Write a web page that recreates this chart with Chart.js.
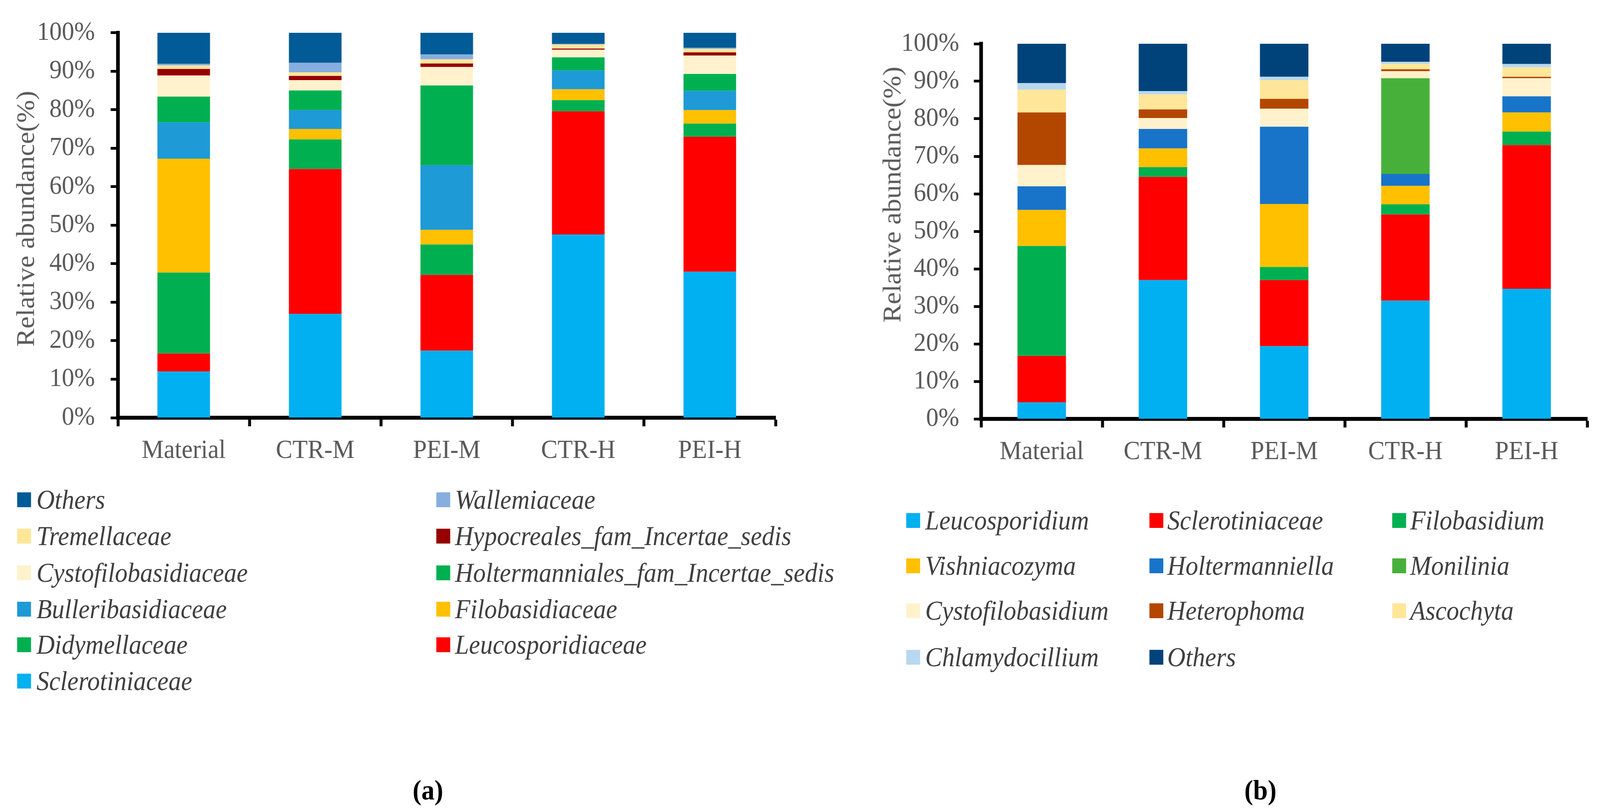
<!DOCTYPE html>
<html>
<head>
<meta charset="utf-8">
<script src="https://cdn.jsdelivr.net/npm/chart.js@4.4.1/dist/chart.umd.min.js"></script>
<style>
  html, body { margin: 0; background: #fff; overflow: hidden; }
  #page { position: absolute; left: 0; top: 0; width: 4382px; height: 2078px; transform-origin: 0 0;
          font-family: "Liberation Serif", "Times New Roman", serif; }
  canvas { position: absolute; top: 0; }
  .ytitle { position: absolute; font-size: 70px; color: #595959; white-space: nowrap;
            transform: translate(-50%, -50%) rotate(-90deg); }
  .sw { position: absolute; width: 38px; height: 38px; }
  .lt { position: absolute; font-style: italic; font-size: 69px; line-height: 1; color: #404040; white-space: nowrap; }
  .cap { position: absolute; font-weight: bold; font-size: 72px; color: #000; transform: translate(-50%, -50%); }
</style>
</head>
<body>
<div id="page">
  <canvas id="chartA" width="2250" height="1250" style="left:0"></canvas>
  <canvas id="chartB" width="2082" height="1250" style="left:2300px"></canvas>
  <div class="ytitle" style="left:70px; top:560px">Relative abundance(%)</div>
  <div class="ytitle" style="left:2443px; top:498px">Relative abundance(%)</div>
  <div class="cap" style="left:1172px; top:2022px">(a)</div>
  <div class="cap" style="left:3452px; top:2022px">(b)</div>
</div>
<script>
// shared axes
const groups = ['Material', 'CTR-M', 'PEI-M', 'CTR-H', 'PEI-H'];
const yTickValues = [0, 10, 20, 30, 40, 50, 60, 70, 80, 90, 100];

// (a) family level, % per group, bottom to top of the stack
const sclerotiniaceaeA = [12.0, 27.0, 17.4, 47.6, 37.9];
const leucosporidiaceaeA = [4.7, 37.6, 19.7, 32.0, 35.1];
const didymellaceaeA = [21.0, 7.7, 7.9, 2.9, 3.4];
const filobasidiaceaeA = [29.6, 2.7, 3.8, 2.8, 3.5];
const bulleribasidiaceaeA = [9.4, 4.9, 16.8, 4.9, 5.0];
const holtermannialesA = [6.7, 5.1, 20.7, 3.4, 4.4];
const cystofilobasidiaceaeA = [5.5, 2.7, 4.8, 2.0, 4.8];
const hypocrealesA = [1.7, 1.1, 0.9, 0.3, 0.8];
const tremellaceaeA = [0.9, 0.9, 1.1, 1.0, 0.9];
const wallemiaceaeA = [0.4, 2.5, 1.3, 0.2, 0.3];
const othersA = [8.1, 7.8, 5.6, 2.9, 3.9];

// (b) genus level, % per group, bottom to top of the stack
const leucosporidiumB = [4.4, 37.0, 19.4, 31.5, 34.7];
const sclerotiniaceaeB = [12.4, 27.5, 17.6, 23.0, 38.3];
const filobasidiumB = [29.3, 2.6, 3.5, 2.7, 3.6];
const vishniacozymaB = [9.6, 5.0, 16.8, 4.9, 5.1];
const holtermanniellaB = [6.3, 5.2, 20.6, 3.2, 4.3];
const moniliniaB = [0, 0, 0, 25.5, 0];
const cystofilobasidiumB = [5.7, 2.9, 4.8, 1.9, 4.8];
const heterophomaB = [14.0, 2.3, 2.6, 0.5, 0.4];
const ascochytaB = [6.1, 4.0, 5.0, 1.5, 2.5];
const chlamydocilliumB = [1.7, 0.9, 0.9, 0.5, 0.9];
const othersB = [10.5, 12.6, 8.8, 4.8, 5.4];

const seriesA = [
  ['Sclerotiniaceae', sclerotiniaceaeA, '#00B0F0'],
  ['Leucosporidiaceae', leucosporidiaceaeA, '#FF0000'],
  ['Didymellaceae', didymellaceaeA, '#00B050'],
  ['Filobasidiaceae', filobasidiaceaeA, '#FFC000'],
  ['Bulleribasidiaceae', bulleribasidiaceaeA, '#1E9AD6'],
  ['Holtermanniales_fam_Incertae_sedis', holtermannialesA, '#00B050'],
  ['Cystofilobasidiaceae', cystofilobasidiaceaeA, '#FFF2CC'],
  ['Hypocreales_fam_Incertae_sedis', hypocrealesA, '#960000'],
  ['Tremellaceae', tremellaceaeA, '#FFE699'],
  ['Wallemiaceae', wallemiaceaeA, '#86AEDF'],
  ['Others', othersA, '#005B96']
];
const seriesB = [
  ['Leucosporidium', leucosporidiumB, '#00B0F0'],
  ['Sclerotiniaceae', sclerotiniaceaeB, '#FF0000'],
  ['Filobasidium', filobasidiumB, '#00B050'],
  ['Vishniacozyma', vishniacozymaB, '#FFC000'],
  ['Holtermanniella', holtermanniellaB, '#1874C9'],
  ['Monilinia', moniliniaB, '#47B03A'],
  ['Cystofilobasidium', cystofilobasidiumB, '#FFF2CC'],
  ['Heterophoma', heterophomaB, '#B34700'],
  ['Ascochyta', ascochytaB, '#FFE699'],
  ['Chlamydocillium', chlamydocilliumB, '#B7D8F0'],
  ['Others', othersB, '#00437A']
];

// the page is laid out at 4382 px wide; squeeze it into whatever the viewport really is
const page = document.getElementById('page');
page.style.transform = 'scale(' + Math.min(1, window.innerWidth / 4382) + ',' + Math.min(1, window.innerHeight / 2078) + ')';

const tickFont = { family: "'Liberation Serif', 'Times New Roman', serif", size: 68 };

function makeChart(id, series, box) {
  return new Chart(document.getElementById(id), {
    type: 'bar',
    data: {
      labels: groups,
      datasets: series.map(s => ({
        label: s[0], data: s[1], backgroundColor: s[2], borderWidth: 0,
        barPercentage: 0.4, categoryPercentage: 1.0
      }))
    },
    options: {
      responsive: false,
      animation: false,
      devicePixelRatio: 1,
      layout: { padding: { left: 0, top: box.top, right: box.right, bottom: 0 } },
      plugins: { legend: { display: false }, tooltip: { enabled: false } },
      scales: {
        x: {
          stacked: true,
          offset: true,
          grid: { offset: true, drawOnChartArea: false, drawTicks: true, tickLength: 22, tickWidth: 8, tickColor: '#000' },
          border: { display: true, color: '#000', width: 10 },
          ticks: { color: '#595959', font: tickFont, padding: 22, maxRotation: 0, autoSkip: false },
          afterFit: s => { s.height = box.xh; }
        },
        y: {
          stacked: true,
          min: 0,
          max: 100,
          afterBuildTicks: s => { s.ticks = yTickValues.map(v => ({ value: v })); },
          grid: { drawOnChartArea: false, drawTicks: true, tickLength: 20, tickWidth: 7, tickColor: '#000' },
          border: { display: true, color: '#000', width: 10 },
          ticks: { color: '#595959', font: tickFont, padding: box.tp, callback: v => v + '%' },
          afterFit: s => { s.width = box.yw; }
        }
      }
    }
  });
}

makeChart('chartA', seriesA, { top: 80, right: 126, yw: 323, xh: 181, tp: 43 });
makeChart('chartB', seriesB, { top: 112, right: 35, yw: 387, xh: 178, tp: 40 });

// legends drawn as html, from the same series lists
function legend(items, colX, textX, rowY) {
  items.forEach((s, i) => {
    const c = i % colX.length, r = Math.floor(i / colX.length);
    const sw = document.createElement('div');
    sw.className = 'sw';
    sw.style.left = colX[c] + 'px';
    sw.style.top = (rowY[r] - 19) + 'px';
    sw.style.background = s[2];
    page.appendChild(sw);
    const t = document.createElement('div');
    t.className = 'lt';
    t.style.left = textX[c] + 'px';
    t.style.top = (rowY[r] - 34.5) + 'px';
    t.textContent = s[0];
    page.appendChild(t);
  });
}
legend(seriesA.slice().reverse(), [47, 1195], [100, 1246], [1279, 1372, 1466, 1559, 1650, 1743]);
legend(seriesB, [2482, 3148, 3813], [2534, 3197, 3862], [1332, 1448, 1563, 1682]);
</script>
</body>
</html>
